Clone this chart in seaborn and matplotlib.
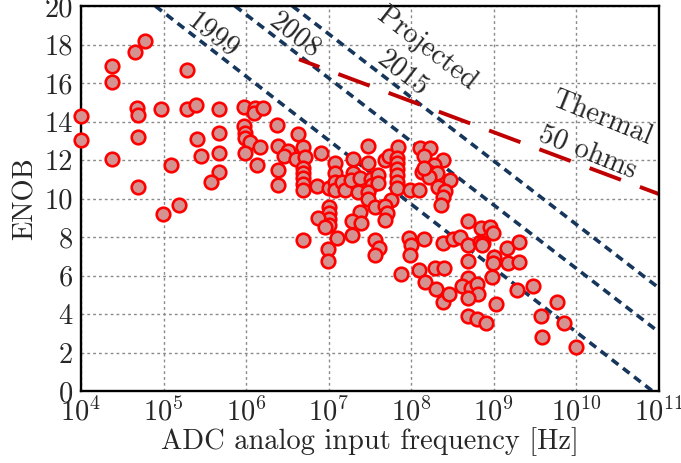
import numpy as np
import pandas as pd
import matplotlib
matplotlib.use("Agg")
import matplotlib.pyplot as plt
import seaborn as sns

# ---- data ----
log10_freq = [
    4.0, 4.0, 4.38, 4.38, 4.38, 4.66, 4.775, 4.675, 4.69, 4.69, 4.69, 4.97, 4.99, 5.19, 5.09,
    5.28, 5.28, 5.39, 5.41, 5.45, 5.67, 5.67, 5.67, 5.67, 5.58,
    5.97, 5.98, 5.99, 5.99, 6.05, 5.99, 6.11, 6.10, 6.20, 6.17, 6.13, 6.37, 6.38, 6.38, 6.38,
    6.51, 6.46, 6.63, 6.69, 6.60, 6.71, 6.69, 6.69, 6.69, 6.69, 6.69, 6.91, 6.86, 7.0,
    7.08, 7.08, 7.08, 7.08, 7.16, 7.2, 7.29, 7.30, 7.27, 7.38, 7.36, 7.48, 7.47, 7.51, 7.52,
    7.48, 7.47, 7.6, 7.6, 7.68, 7.73, 7.84, 7.83, 7.83, 7.83, 7.83, 7.83, 7.83, 7.76, 7.56,
    7.68, 7.70, 7.68, 7.38, 7.28, 7.39, 7.0, 7.0, 7.0, 7.0, 6.87, 6.95, 7.28, 7.1, 6.69,
    6.99, 6.99, 7.56, 7.61, 7.56, 7.98, 7.97, 8.0, 7.98, 7.87,
    8.1, 8.23, 8.39, 8.27, 8.13, 8.21, 8.31, 8.21, 8.47, 8.09, 8.32, 8.41, 8.39, 8.36,
    8.15, 8.15,
    8.69, 8.85, 8.95, 8.99, 8.15, 8.39, 8.51, 8.59, 8.69, 8.83, 8.87, 8.86, 9.16, 9.30,
    8.09, 8.29, 8.40, 8.17, 8.30, 8.38, 8.46, 8.69, 8.69, 8.62, 8.72, 8.79, 8.81, 8.69,
    8.69, 8.79, 8.90, 9.0, 8.99, 8.98, 9.17, 9.30, 9.03, 9.28, 9.48, 9.76, 9.57, 9.85,
    9.58, 10.0,
]
enob = [
    14.3, 13.05, 16.88, 16.04, 12.05, 17.61, 18.2, 14.69, 14.32, 13.19, 10.58, 14.67, 9.19, 9.68, 11.72,
    16.66, 14.67, 14.87, 13.11, 12.21, 14.67, 13.4, 12.35, 11.36, 10.84,
    14.77, 13.77, 13.39, 13.13, 12.95, 12.35, 14.68, 14.42, 14.68, 12.69, 11.72, 13.82, 12.71, 11.49, 10.68,
    12.45, 12.21, 13.37, 12.69, 12.03, 12.15, 11.6, 11.34, 11.05, 10.77, 10.46, 12.36, 10.65, 10.56,
    11.83, 11.33, 10.87, 10.46, 10.87, 10.44, 12.05, 11.31, 10.96, 11.08, 10.35, 12.75, 11.86, 10.99, 10.7,
    10.35, 10.0, 11.22, 10.78, 12.0, 12.21, 12.66, 12.09, 11.83, 11.52, 11.22, 10.87, 10.53, 9.92, 9.57,
    9.61, 9.23, 8.88, 9.31, 8.85, 8.71, 9.57, 9.23, 8.91, 8.62, 8.97, 8.54, 8.1, 7.93, 7.85,
    7.4, 6.75, 7.84, 7.41, 7.06, 10.44, 7.93, 7.58, 7.06, 6.06,
    12.6, 12.6, 12.0, 11.74, 11.39, 11.39, 11.34, 11.13, 10.96, 10.44, 10.58, 10.39, 10.1, 9.66,
    12.2, 11.57,
    8.85, 8.45, 8.54, 8.22, 7.88, 7.67, 7.88, 7.98, 7.58, 7.76, 7.7, 7.58, 7.41, 7.76,
    6.29, 6.4, 6.4, 5.68, 5.28, 4.6, 5.04, 6.75, 5.89, 5.45, 5.37, 5.54, 5.02, 4.85,
    3.91, 3.74, 3.52, 6.98, 6.63, 5.9, 6.63, 6.72, 4.5, 5.25, 5.45, 4.6, 3.9, 3.55,
    2.81, 2.29,
]

# reference limit lines: endpoints (log10 frequency, ENOB)
line_names = ["1999", "2008", "Projected 2015", "Thermal 50 ohms"]
line_log10_freq = [[4.9, 10.92], [5.865, 11.0], [6.56, 11.0], [6.64, 11.0]]
line_enob = [[20.0, 0.0], [20.0, 3.06], [20.0, 5.35], [17.23, 10.23]]

x_ticks_exp = [4, 5, 6, 7, 8, 9, 10, 11]
y_ticks = [0, 2, 4, 6, 8, 10, 12, 14, 16, 18, 20]

# ---- style ----
sns.set_theme(style="white")
plt.rcParams["font.family"] = ["cmr10", "DejaVu Serif"]
plt.rcParams["mathtext.fontset"] = "cm"
plt.rcParams["axes.unicode_minus"] = False
plt.rcParams["axes.formatter.use_mathtext"] = True

fig = plt.figure(figsize=(6.81, 4.63), dpi=100)
ax = fig.add_axes([81 / 681, 1 - 391 / 463, 578 / 681, 385 / 463])
ax.set_xscale("log")

df = pd.DataFrame({"freq": np.power(10.0, log10_freq), "enob": enob})

navy = "#16365c"
for name, lf, en in zip(line_names, line_log10_freq, line_enob):
    d = pd.DataFrame({"f": np.power(10.0, lf), "e": en})
    if name.startswith("Thermal"):
        sns.lineplot(data=d, x="f", y="e", ax=ax, color="#c00000", linewidth=2.8,
                     linestyle=(3, (8.6, 5.2)), zorder=2, estimator=None, sort=False)
    else:
        sns.lineplot(data=d, x="f", y="e", ax=ax, color=navy, linewidth=2.6,
                     linestyle=(0, (2.3, 1.6)), zorder=2, estimator=None, sort=False)

sns.scatterplot(data=df, x="freq", y="enob", ax=ax, s=95, color="#d49390",
                edgecolor="#ff0000", linewidth=1.9, zorder=3, clip_on=False)

ax.set_xlim(1e4, 1e11)
ax.set_ylim(0, 20)
ax.set_xticks([10.0 ** e for e in x_ticks_exp])
ax.set_xticklabels([r"$10^{%d}$" % e for e in x_ticks_exp])
ax.minorticks_off()
ax.set_yticks(y_ticks)
ax.set_yticklabels([str(v) for v in y_ticks])
ax.tick_params(axis="both", length=0, labelsize=20.5, pad=5)
ax.tick_params(axis="y", pad=6)

ax.grid(True, color="#8a8a8a", linestyle=(0, (2, 2.2)), linewidth=1.0, zorder=0)
ax.set_axisbelow(True)
for sp in ax.spines.values():
    sp.set_color("black")
    sp.set_linewidth(1.7)

ax.set_xlabel("ADC analog input frequency [Hz]", fontsize=20.5, labelpad=0)
ax.set_ylabel("ENOB", fontsize=20.5, labelpad=4)

txt_kw = dict(fontsize=20.5, ha="center", va="center", rotation_mode="anchor", zorder=4)
ax.text(10 ** 5.6, 18.45, "1999", rotation=-37.7, **txt_kw)
ax.text(10 ** 6.59, 18.45, "2008", rotation=-37.7, **txt_kw)
ax.text(10 ** 8.19, 17.8, "Projected", rotation=-37.7, **txt_kw)
ax.text(10 ** 7.9, 16.52, "2015", rotation=-37.7, **txt_kw)
ax.text(10 ** 10.31, 14.18, "Thermal", rotation=-22, **txt_kw)
ax.text(10 ** 10.14, 12.42, "50 ohms", rotation=-22, **txt_kw)

fig.savefig("out.png", dpi=100)
